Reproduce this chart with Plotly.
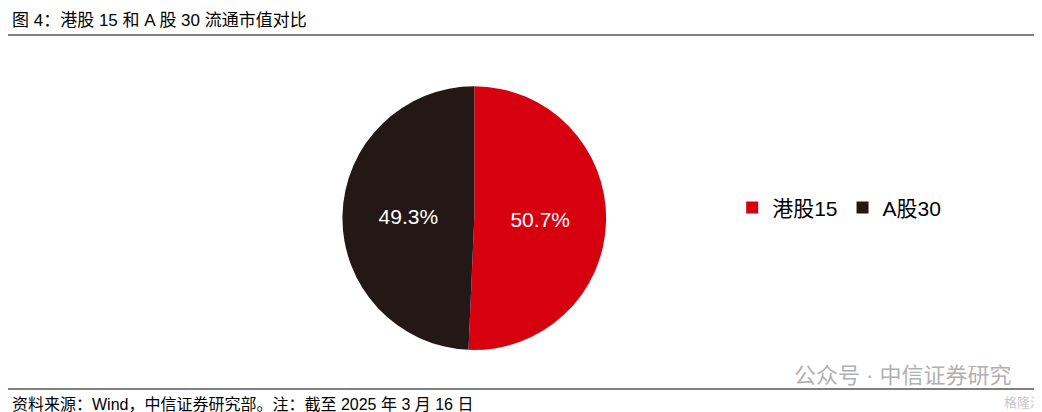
import plotly.graph_objects as go

labels = ["港股15", "A股30"]
values = [50.7, 49.3]
colors = ["#D7000F", "#231815"]

title = "图 4：港股 15 和 A 股 30 流通市值对比"
source = "资料来源：Wind，中信证券研究部。注：截至 2025 年 3 月 16 日"

fig = go.Figure(go.Pie(
    labels=labels, values=values, sort=False, direction="clockwise", rotation=0,
    marker=dict(colors=colors, line=dict(color="white", width=0)),
    texttemplate="%{value:.1f}%", textposition="inside",
    insidetextfont=dict(color="white", size=21, family="Arial, Liberation Sans"),
    domain=dict(x=[0.31, 0.585], y=[0.17, 0.81]),
    hoverinfo="label+percent",
))

font = "Liberation Sans, Noto Sans CJK SC, sans-serif"
fig.update_layout(
    width=1042, height=412, margin=dict(l=0, r=0, t=0, b=0),
    paper_bgcolor="white", plot_bgcolor="white",
    font=dict(family=font, color="black"),
    legend=dict(orientation="h", x=0.695, y=0.515, xanchor="left", yanchor="middle",
                font=dict(size=21, family=font), itemwidth=30),
    shapes=[
        dict(type="line", xref="paper", yref="paper", x0=0, x1=1, y0=1 - 27 / 412, y1=1 - 27 / 412,
             line=dict(color="black", width=1)),
        dict(type="line", xref="paper", yref="paper", x0=0, x1=1, y0=1 - 381 / 412, y1=1 - 381 / 412,
             line=dict(color="black", width=1)),
    ],
    annotations=[
        dict(text=title, xref="paper", yref="paper", x=0.002, y=1 - 13 / 412, xanchor="left",
             yanchor="middle", showarrow=False, font=dict(size=17, family=font)),
        dict(text=source, xref="paper", yref="paper", x=0.002, y=1 - 396 / 412, xanchor="left",
             yanchor="middle", showarrow=False, font=dict(size=16, family=font)),
        dict(text="公众号 · 中信证券研究", xref="paper", yref="paper", x=0.965, y=1 - 367 / 412,
             xanchor="right", yanchor="middle", showarrow=False,
             font=dict(size=22, color="#B0B0B0", family=font)),
        dict(text="格隆汇", xref="paper", yref="paper", x=0.995, y=1 - 394 / 412,
             xanchor="right", yanchor="middle", showarrow=False,
             font=dict(size=13, color="#C8C8C8", family=font)),
    ],
)

fig.write_html("out.html")
